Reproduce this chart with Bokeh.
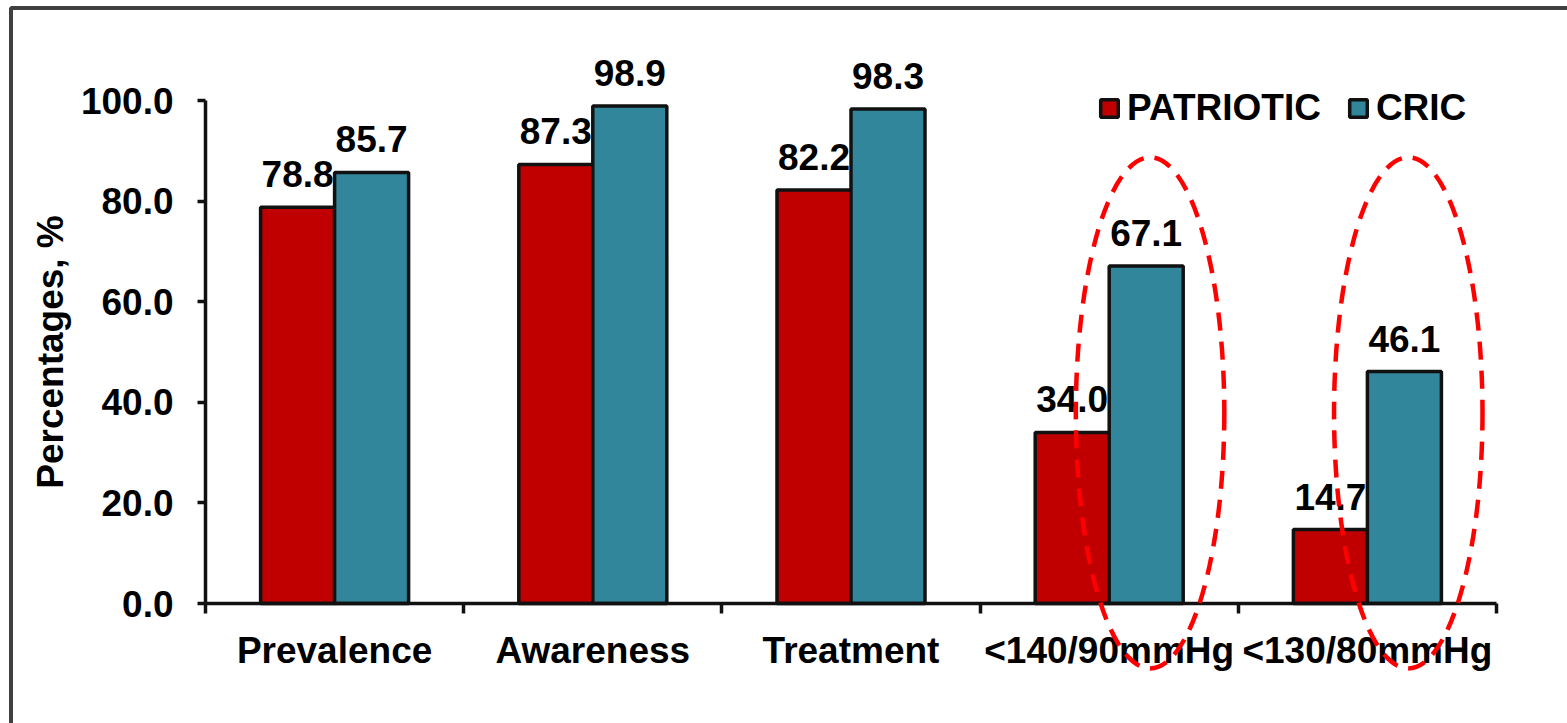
import numpy as np
from bokeh.plotting import figure
from bokeh.models import (ColumnDataSource, LabelSet, Label, LinearAxis, FixedTicker,
                          PrintfTickFormatter, Range1d, BoxAnnotation)
from bokeh.core.properties import value
from bokeh.embed import file_html
from bokeh.resources import INLINE

# ---- data -------------------------------------------------------------
categories = ["Prevalence", "Awareness", "Treatment", "<140/90mmHg", "<130/80mmHg"]
patriotic = [78.8, 87.3, 82.2, 34.0, 14.7]
cric = [85.7, 98.9, 98.3, 67.1, 46.1]
y_ticks = [0, 20, 40, 60, 80, 100]
series_names = ["PATRIOTIC", "CRIC"]
series_colors = ["#C00000", "#31869B"]
y_title = "Percentages, %"

FONT = "Liberation Sans"
INK = "#111111"
FS = "37px"

# ---- layout -----------------------------------------------------------
W, H = 1567, 723
axis_px = 205              # canvas column of the value axis
zero_px = 603              # canvas row of the zero line
px_per_cat = 258.2         # horizontal pixels per category slot
px_per_unit = 5.03         # vertical pixels per percentage point

x_start = -axis_px / px_per_cat
x_end = (W - axis_px) / px_per_cat
y_start = -(H - zero_px) / px_per_unit
y_end = zero_px / px_per_unit

n = len(categories)
centers = np.arange(n) + 0.5
bar_w = 0.2866

src = ColumnDataSource(dict(
    cat=categories,
    x_pat=centers - bar_w / 2,
    x_cric=centers + bar_w / 2,
    pat=patriotic,
    cric=cric,
    pat_lbl=[f"{v:.1f}" for v in patriotic],
    cric_lbl=[f"{v:.1f}" for v in cric],
))

p = figure(width=W, height=H, output_backend="svg", toolbar_location=None, tools="",
           x_range=Range1d(x_start, x_end), y_range=Range1d(y_start, y_end),
           min_border=0)
p.outline_line_color = None
p.grid.visible = False
p.background_fill_color = "white"
p.border_fill_color = "white"

# bars
p.vbar(x="x_pat", top="pat", width=bar_w, bottom=0, source=src,
       fill_color=series_colors[0], line_color=INK, line_width=3.5,
       legend_label=series_names[0])
p.vbar(x="x_cric", top="cric", width=bar_w, bottom=0, source=src,
       fill_color=series_colors[1], line_color=INK, line_width=3.5,
       legend_label=series_names[1])

# value labels
for xcol, ycol, tcol in (("x_pat", "pat", "pat_lbl"), ("x_cric", "cric", "cric_lbl")):
    p.add_layout(LabelSet(x=xcol, y=ycol, text=tcol, source=src, y_offset=20,
                          text_align="center", text_baseline="alphabetic",
                          text_font=value(FONT), text_font_style="bold",
                          text_font_size=FS, text_color="black"))

# highlight rings around the two blood-pressure target groups
ring_x = [centers[3] + bar_w / 2 + 0.015, centers[4] + bar_w / 2 + 0.015]
p.ellipse(x=ring_x, y=[37.9, 37.9], width=[0.575, 0.575], height=[101.6, 101.6],
          fill_color=None, line_color="#FF0000", line_width=4.5,
          line_dash="18 11", level="overlay")

# y axis, pinned at x = 0
ya = p.yaxis[0]
ya.fixed_location = 0
ya.ticker = FixedTicker(ticks=y_ticks)
ya.formatter = PrintfTickFormatter(format="%.1f")
ya.bounds = (0, 100)
ya.major_label_text_font = FONT
ya.major_label_text_font_style = "bold"
ya.major_label_text_font_size = FS
ya.major_label_text_color = "black"
ya.major_label_standoff = 24
ya.major_tick_out = 8
ya.major_tick_in = 0
ya.minor_tick_line_color = None
ya.axis_line_color = INK
ya.axis_line_width = 3.5
ya.major_tick_line_color = INK
ya.major_tick_line_width = 3.5

# y title, centred on the 0-100 span
p.add_layout(Label(x=0, y=50, x_offset=-155, text=y_title, angle=90, angle_units="deg",
                   text_align="center", text_baseline="middle",
                   text_font=FONT, text_font_style="bold",
                   text_font_size=FS, text_color="black"))

# x axis: boundaries carry the ticks, centres carry the names
xa = p.xaxis[0]
xa.fixed_location = 0
xa.ticker = FixedTicker(ticks=list(range(n + 1)))
xa.major_label_text_font_size = "0px"
xa.major_label_text_color = None
xa.bounds = (0, n)
xa.major_tick_out = 10
xa.major_tick_in = 0
xa.minor_tick_line_color = None
xa.axis_line_color = INK
xa.axis_line_width = 3.5
xa.major_tick_line_color = INK
xa.major_tick_line_width = 3.5

xl = LinearAxis(fixed_location=0)
xl.ticker = FixedTicker(ticks=list(centers))
xl.major_label_overrides = {float(c): name for c, name in zip(centers, categories)}
xl.axis_line_color = None
xl.major_tick_line_color = None
xl.minor_tick_line_color = None
xl.major_tick_out = 0
xl.major_tick_in = 0
xl.major_label_standoff = 26
xl.major_label_text_font = FONT
xl.major_label_text_font_style = "bold"
xl.major_label_text_font_size = FS
xl.major_label_text_color = "black"
p.add_layout(xl, "below")

# legend
lg = p.legend[0]
lg.orientation = "horizontal"
lg.location = (1098, 594)
lg.label_text_font = FONT
lg.label_text_font_style = "bold"
lg.label_text_font_size = FS
lg.label_text_color = "black"
lg.glyph_width = 22
lg.glyph_height = 22
lg.label_standoff = 7
lg.spacing = 26
lg.padding = 0
lg.margin = 0
lg.background_fill_alpha = 0
lg.border_line_color = None

# page frame (left and top edges fall inside the canvas)
p.add_layout(BoxAnnotation(left=10.5, right=1700, top=7.5, bottom=900,
                           left_units="canvas", right_units="canvas",
                           top_units="canvas", bottom_units="canvas",
                           fill_alpha=0, line_color="#404040", line_alpha=1.0,
                           line_width=4, level="overlay"))

open("out.html", "w").write(file_html(p, INLINE))
